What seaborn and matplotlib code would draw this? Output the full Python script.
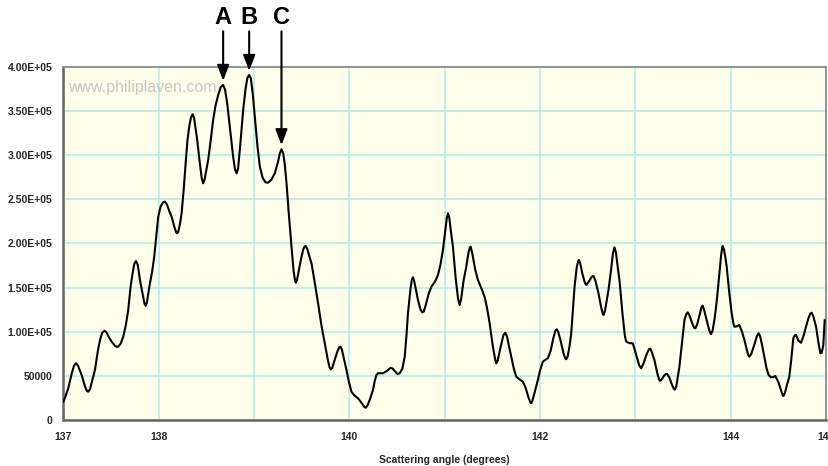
import matplotlib
matplotlib.use("Agg")
import matplotlib.pyplot as plt
import seaborn as sns
import pandas as pd

# ---- data (angle in degrees, intensity) ----
angle = [
    137.000, 137.025, 137.050, 137.085, 137.110, 137.131, 137.150, 137.170, 137.191, 137.225,
    137.245, 137.260, 137.278, 137.300, 137.330, 137.360, 137.383, 137.405, 137.428, 137.450,
    137.475, 137.505, 137.540, 137.560, 137.574, 137.600, 137.627, 137.655, 137.679, 137.705,
    137.725, 137.742, 137.760, 137.778, 137.790, 137.802, 137.835, 137.850, 137.862, 137.875,
    137.890, 137.907, 137.930, 137.952, 137.975, 137.994, 138.020, 138.045, 138.064, 138.085,
    138.110, 138.134, 138.165, 138.182, 138.193, 138.205, 138.222, 138.239, 138.262, 138.284,
    138.300, 138.319, 138.337, 138.354, 138.370, 138.385, 138.403, 138.430, 138.450, 138.465,
    138.480, 138.500, 138.518, 138.545, 138.570, 138.595, 138.623, 138.650, 138.675, 138.695,
    138.718, 138.745, 138.780, 138.800, 138.816, 138.832, 138.855, 138.885, 138.910, 138.930,
    138.948, 138.965, 138.985, 139.007, 139.035, 139.060, 139.090, 139.120, 139.147, 139.180,
    139.217, 139.250, 139.270, 139.287, 139.305, 139.322, 139.340, 139.365, 139.392, 139.415,
    139.430, 139.437, 139.450, 139.470, 139.490, 139.515, 139.530, 139.542, 139.560, 139.580,
    139.602, 139.640, 139.671, 139.705, 139.741, 139.770, 139.790, 139.804, 139.820, 139.845,
    139.875, 139.895, 139.906, 139.920, 139.945, 139.969, 139.995, 140.021, 140.050, 140.090,
    140.130, 140.155, 140.171, 140.190, 140.215, 140.247, 140.265, 140.283, 140.300, 140.352,
    140.400, 140.430, 140.451, 140.475, 140.505, 140.527, 140.555, 140.580, 140.600, 140.614,
    140.640, 140.655, 140.667, 140.680, 140.700, 140.719, 140.745, 140.765, 140.779, 140.800,
    140.830, 140.860, 140.900, 140.929, 140.955, 140.981, 141.005, 141.022, 141.034, 141.048,
    141.065, 141.086, 141.115, 141.140, 141.156, 141.172, 141.198, 141.226, 141.250, 141.264,
    141.272, 141.290, 141.320, 141.348, 141.385, 141.418, 141.445, 141.471, 141.505, 141.530,
    141.541, 141.555, 141.585, 141.615, 141.635, 141.655, 141.675, 141.698, 141.725, 141.751,
    141.790, 141.820, 141.850, 141.880, 141.900, 141.908, 141.920, 141.945, 141.977, 142.000,
    142.029, 142.060, 142.082, 142.110, 142.140, 142.162, 142.176, 142.190, 142.215, 142.245,
    142.265, 142.275, 142.290, 142.310, 142.327, 142.345, 142.362, 142.385, 142.400, 142.407,
    142.420, 142.445, 142.470, 142.484, 142.510, 142.540, 142.561, 142.580, 142.600, 142.613,
    142.640, 142.660, 142.666, 142.680, 142.700, 142.718, 142.745, 142.765, 142.781, 142.797,
    142.815, 142.833, 142.865, 142.890, 142.904, 142.940, 142.973, 143.010, 143.040, 143.061,
    143.085, 143.120, 143.142, 143.155, 143.170, 143.200, 143.230, 143.253, 143.270, 143.300,
    143.320, 143.333, 143.355, 143.385, 143.405, 143.415, 143.430, 143.462, 143.490, 143.515,
    143.535, 143.549, 143.565, 143.595, 143.615, 143.630, 143.650, 143.680, 143.695, 143.706,
    143.720, 143.748, 143.775, 143.790, 143.795, 143.810, 143.830, 143.847, 143.865, 143.882,
    143.900, 143.912, 143.916, 143.930, 143.945, 143.958, 143.972, 143.986, 144.010, 144.030,
    144.039, 144.065, 144.091, 144.120, 144.144, 144.170, 144.185, 144.196, 144.215, 144.250,
    144.275, 144.293, 144.310, 144.330, 144.353, 144.375, 144.398, 144.420, 144.445, 144.468,
    144.500, 144.530, 144.547, 144.555, 144.570, 144.590, 144.615, 144.635, 144.657, 144.672,
    144.686, 144.710, 144.738, 144.765, 144.790, 144.815, 144.835, 144.849, 144.865, 144.896,
    144.920, 144.941, 144.955, 144.972, 144.986]
intensity = [
    20700, 28000, 36200, 52000, 61500, 64200, 62000, 56500, 50900, 38000,
    33000, 32000, 35000, 44000, 56600, 78000, 90600, 98500, 101100, 99500,
    94000, 88700, 84000, 82800, 83000, 86500, 94300, 108000, 124500, 152000,
    166100, 176500, 180000, 176000, 168000, 158500, 140000, 131500, 129400, 133000,
    143000, 154800, 168000, 184900, 210000, 230200, 242000, 246500, 247200, 244000,
    236500, 230200, 218000, 212500, 211400, 213500, 222000, 234000, 262000, 294400,
    316000, 332100, 342500, 346100, 342000, 331000, 317000, 291000, 274000, 268000,
    272000, 284000, 294400, 317000, 339700, 356000, 368000, 377000, 379300, 374000,
    358000, 332100, 298000, 283500, 279300, 285000, 312000, 351000, 375000, 387500,
    390600, 387000, 370000, 343400, 310000, 286800, 274000, 269000, 268700, 272000,
    279300, 292000, 302000, 306500, 302000, 289000, 268000, 232000, 196200, 168000,
    157500, 155500, 158500, 170000, 181200, 193000, 196500, 197000, 193000, 185000,
    177400, 153000, 132100, 108000, 86800, 70000, 60000, 57400, 59000, 68000,
    78000, 82500, 83000, 80000, 68000, 56600, 43000, 32000, 28000, 24600,
    19000, 14800, 13900, 16500, 23500, 34000, 44000, 50900, 53000, 52900,
    56000, 59000, 58500, 55500, 52000, 52900, 58000, 71700, 98000, 120800,
    148000, 159000, 161600, 157000, 146000, 135900, 125000, 121800, 122600, 130000,
    142500, 150900, 157000, 164200, 176000, 192500, 214000, 229000, 234000, 229000,
    213000, 196200, 160000, 137000, 130200, 137000, 158000, 173600, 190000, 195500,
    196200, 188000, 170000, 158500, 149000, 139600, 126000, 109500, 83000, 68000,
    64200, 67000, 82000, 96000, 98800, 94000, 83000, 71700, 58000, 49000,
    45500, 43400, 36000, 25000, 19500, 18900, 22000, 32000, 45300, 56000,
    66000, 68500, 69900, 78000, 93000, 101500, 102700, 100000, 90000, 76000,
    69500, 68700, 72000, 84000, 98200, 125000, 150900, 173000, 180000, 181200,
    178000, 165000, 155500, 152800, 156500, 162000, 163000, 158000, 149000, 143400,
    128000, 119500, 118900, 123000, 136000, 147200, 170000, 189000, 195500, 189000,
    173000, 158500, 120000, 95000, 88700, 87000, 86800, 73000, 62000, 58500,
    64000, 75000, 80000, 80700, 77500, 67900, 53000, 44500, 45000, 50000,
    52100, 52100, 48500, 39500, 35000, 34500, 38500, 60300, 88000, 113200,
    120000, 121900, 119000, 110000, 104500, 103800, 109000, 122000, 128000, 129400,
    125000, 113200, 101500, 97500, 97400, 101000, 114000, 128300, 147000, 166100,
    187000, 195500, 197000, 193000, 183500, 173600, 158000, 143400, 121000, 108500,
    105600, 106000, 107600, 99500, 90600, 79000, 73500, 71700, 74500, 86000,
    95000, 98200, 94500, 84500, 71700, 59000, 50900, 48500, 48500, 49800,
    43000, 33000, 27800, 27200, 31000, 39500, 49000, 68000, 92500, 96000,
    96200, 90000, 87500, 95500, 105600, 115000, 120500, 121500, 118000, 105600,
    88000, 75500, 76000, 84900, 113200]

x_ticks = [137, 138, 139, 140, 141, 142, 143, 144, 145]
x_tick_labels = ["137", "138", "", "140", "", "142", "", "144", "145"]
y_ticks = [0, 50000, 100000, 150000, 200000, 250000, 300000, 350000, 400000]
y_tick_labels = ["0", "50000", "1.00E+05", "1.50E+05", "2.00E+05", "2.50E+05",
                 "3.00E+05", "3.50E+05", "4.00E+05"]
peak_labels = ["A", "B", "C"]
peak_angles = [138.675, 138.948, 139.287]
peak_values = [379300, 390600, 306500]
x_label = "Scattering angle (degrees)"
watermark = "www.philiplaven.com"

df = pd.DataFrame({"angle": angle, "intensity": intensity})

sns.set_style("white")
plt.rcParams["font.family"] = ["Liberation Sans", "DejaVu Sans"]

fig = plt.figure(figsize=(8.29, 4.66), dpi=100)
W, H = 829, 466
left, right, bottom, top = 63.5, 826, 420, 66.7
ax = fig.add_axes([left / W, (H - bottom) / H, (right - left) / W, (bottom - top) / H])
ax.set_facecolor("#FFFFEA")

sns.lineplot(data=df, x="angle", y="intensity", ax=ax, color="black",
             linewidth=1.5, sort=False, estimator=None, zorder=3)

ax.set_xlim(137, 145)
ax.set_ylim(0, 400000)
ax.set_xticks(x_ticks)
ax.set_xticklabels(x_tick_labels, fontsize=7.5, fontweight="bold")
ax.set_yticks(y_ticks)
ax.set_yticklabels(y_tick_labels, fontsize=7.5, fontweight="bold")
ax.tick_params(axis="x", length=3, width=1, color="#707070", pad=6, direction="out")
ax.tick_params(axis="y", length=0, pad=8)
ax.set_xlabel(x_label, fontsize=7.5, fontweight="bold", labelpad=9)
ax.set_ylabel("")

ax.grid(True, color="#A8EEEE", linewidth=1.1, zorder=1)
ax.set_axisbelow(True)
for side in ["left", "bottom"]:
    ax.spines[side].set_color("#666666")
    ax.spines[side].set_linewidth(1.8)
for side in ["top", "right"]:
    ax.spines[side].set_color("#8C8C8C")
    ax.spines[side].set_linewidth(1.3)

ax.text(0.006, 0.94, watermark, transform=ax.transAxes, fontsize=11.5,
        color="#C6C6C6", ha="left", va="center")

for lab, px, py in zip(peak_labels, peak_angles, peak_values):
    ax.annotate("", xy=(px, py), xytext=(px, 440000), textcoords="data",
                annotation_clip=False,
                arrowprops=dict(arrowstyle="-|>,head_length=0.47,head_width=0.18",
                                mutation_scale=20, color="black", lw=1.5,
                                shrinkA=0, shrinkB=3))
    ax.text(px, 456000, lab, ha="center", va="center", fontsize=17,
            fontweight="bold", color="black", clip_on=False)

fig.savefig("out.png", dpi=100)
